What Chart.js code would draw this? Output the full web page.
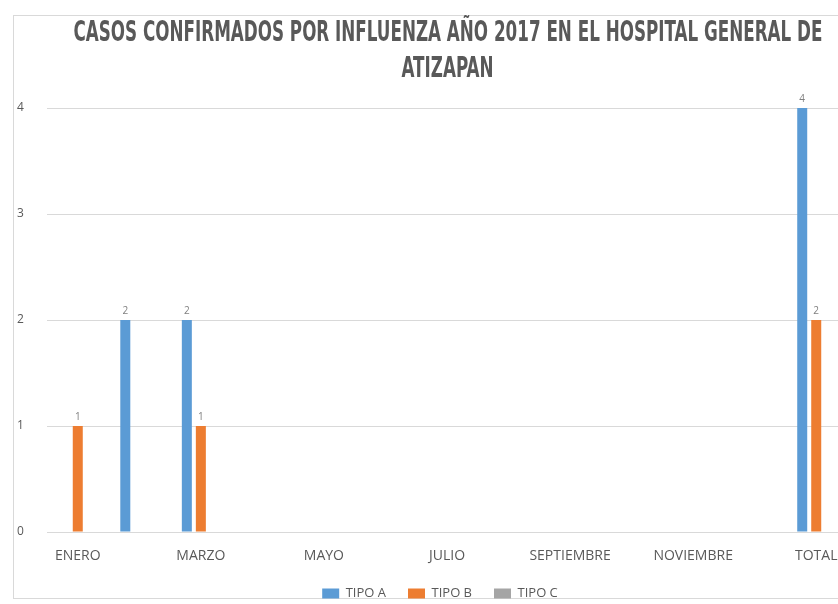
<!DOCTYPE html>
<html>
<head>
<meta charset="utf-8">
<script src="https://cdn.jsdelivr.net/npm/chart.js@4.4.0/dist/chart.umd.min.js"></script>
<style>
  html, body { margin: 0; padding: 0; background: #fff; overflow: hidden; }
  #wrap { position: relative; width: 838px; height: 604px; overflow: hidden; }
  #marco { position: absolute; left: 13px; top: 15px; width: 900px; height: 584px; border: 1px solid #d9d9d9; box-sizing: border-box; }
  #grafica { position: absolute; left: 0; top: 0; }
  .titulo { position: absolute; left: -552.5px; width: 2000px; text-align: center; white-space: nowrap;
            font-family: "DejaVu Sans Condensed", "DejaVu Sans"; font-weight: bold; font-size: 29px;
            line-height: 29px; color: #595959; }
  .titulo span { display: inline-block; }
</style>
</head>
<body>
<div id="wrap">
  <div id="marco"></div>
  <canvas id="grafica" width="860" height="610"></canvas>
  <div class="titulo" style="top:17px"><span id="t1">CASOS CONFIRMADOS POR INFLUENZA AÑO 2017 EN EL HOSPITAL GENERAL DE</span></div>
  <div class="titulo" style="top:53px"><span id="t2">ATIZAPAN</span></div>
</div>
<script>
// meses + total
var meses = ['ENERO', 'FEBRERO', 'MARZO', 'ABRIL', 'MAYO', 'JUNIO', 'JULIO', 'AGOSTO',
             'SEPTIEMBRE', 'OCTUBRE', 'NOVIEMBRE', 'DICIEMBRE', 'TOTAL'];
// casos por tipo
var tipoA = [0, 2, 2, 0, 0, 0, 0, 0, 0, 0, 0, 0, 4];
var tipoB = [1, 0, 1, 0, 0, 0, 0, 0, 0, 0, 0, 0, 2];
var tipoC = [0, 0, 0, 0, 0, 0, 0, 0, 0, 0, 0, 0, 0];
var ejeY = [0, 1, 2, 3, 4];

// titulo angosto: se comprime a lo ancho
var t1 = document.getElementById('t1');
var esc = 749 / t1.offsetWidth;
t1.style.transform = 'scaleX(' + esc + ')';
document.getElementById('t2').style.transform = 'scaleX(' + esc + ')';

// numeros encima de cada barra
var etiquetas = {
  id: 'etiquetas',
  afterDatasetsDraw: function(chart) {
    var ctx = chart.ctx;
    ctx.save();
    ctx.font = '10px "Open Sans"';
    ctx.fillStyle = '#808080';
    ctx.textAlign = 'center';
    ctx.textBaseline = 'alphabetic';
    chart.data.datasets.forEach(function(ds, i) {
      chart.getDatasetMeta(i).data.forEach(function(bar, j) {
        if (ds.data[j]) ctx.fillText(ds.data[j], bar.x, bar.y - 6);
      });
    });
    ctx.restore();
  }
};

var ctx = document.getElementById('grafica');
var grafica = new Chart(ctx, {
  type: 'bar',
  data: {
    labels: meses,
    datasets: [
      { label: 'TIPO A', data: tipoA, backgroundColor: '#5b9bd5' },
      { label: 'TIPO B', data: tipoB, backgroundColor: '#ed7d31' },
      { label: 'TIPO C', data: tipoC, backgroundColor: '#a5a5a5' }
    ]
  },
  options: {
    responsive: false,
    animation: false,
    layout: { padding: { left: 33, right: 13, top: 108, bottom: 0 } },
    datasets: { bar: { categoryPercentage: 0.683, barPercentage: 0.714 } },
    plugins: {
      title: { display: false },
      tooltip: { enabled: false },
      legend: {
        position: 'bottom',
        labels: {
          boxWidth: 17, boxHeight: 10, padding: 22,
          color: '#595959',
          font: { family: 'Open Sans', size: 13 }
        }
      }
    },
    scales: {
      x: {
        afterFit: function(axis) { axis.height = 33; },
        grid: { display: false, drawTicks: false },
        border: { color: '#d9d9d9' },
        ticks: {
          autoSkip: false, maxRotation: 0, padding: 16,
          color: '#595959',
          font: { family: 'Open Sans', size: 14 },
          callback: function(v, i) { return i % 2 === 0 ? meses[i] : ''; }
        }
      },
      y: {
        min: ejeY[0], max: ejeY[ejeY.length - 1],
        afterFit: function(axis) { axis.width = 14; },
        grid: { color: '#d9d9d9', drawTicks: false },
        border: { display: false },
        ticks: {
          stepSize: ejeY[1] - ejeY[0],
          mirror: true,
          padding: -30,
          color: '#595959',
          font: { family: 'Open Sans', size: 12 }
        }
      }
    }
  },
  plugins: [etiquetas]
});
</script>
</body>
</html>
